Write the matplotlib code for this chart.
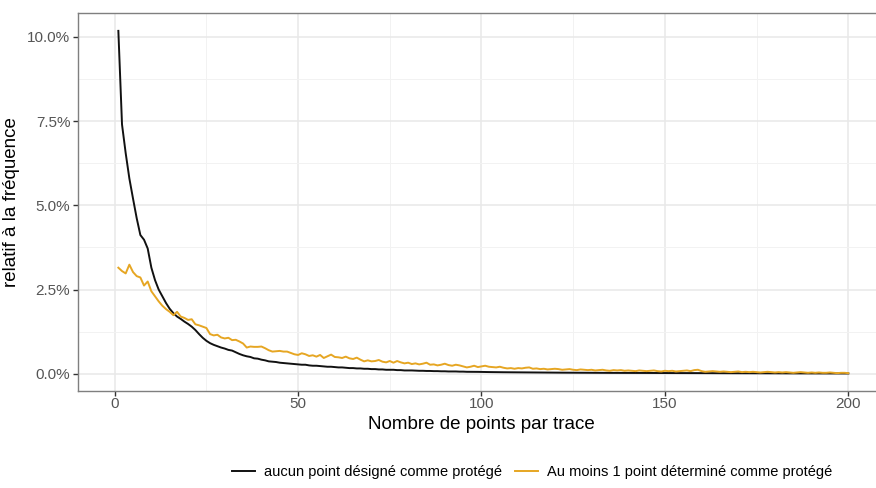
#!/usr/bin/env python3
# relative frequency of points per trace, two groups

import numpy as np
import matplotlib
matplotlib.use("Agg")
import matplotlib.pyplot as plt
from matplotlib.ticker import FuncFormatter, MultipleLocator

plt.rcParams['font.family'] = ['Liberation Sans', 'DejaVu Sans']

# --- DATA (percent) ---
n_points = list(range(1, 201))

no_protected = [
    10.18, 7.40, 6.55, 5.80, 5.20, 4.62, 4.12, 3.98, 3.72, 3.15,
    2.78, 2.50, 2.30, 2.10, 1.93, 1.80, 1.70, 1.63, 1.55, 1.48,
    1.40, 1.30, 1.18, 1.07, 0.98, 0.91, 0.86, 0.82, 0.78, 0.75,
    0.71, 0.69, 0.64, 0.59, 0.55, 0.52, 0.50, 0.46, 0.45, 0.42,
    0.40, 0.37, 0.36, 0.35, 0.33, 0.32, 0.31, 0.30, 0.29, 0.28,
    0.27, 0.27, 0.25, 0.24, 0.24, 0.23, 0.22, 0.21, 0.21, 0.20,
    0.19, 0.19, 0.18, 0.17, 0.17, 0.16, 0.16, 0.15, 0.15, 0.14,
    0.14, 0.13, 0.13, 0.12, 0.12, 0.12, 0.11, 0.11, 0.10, 0.10,
    0.10, 0.095, 0.09, 0.09, 0.085, 0.085, 0.08, 0.08, 0.075, 0.075,
    0.07, 0.07, 0.07, 0.065, 0.065, 0.06, 0.06, 0.06, 0.058, 0.055,
    0.055, 0.052, 0.05, 0.05, 0.048, 0.047, 0.046, 0.045, 0.044, 0.043,
    0.042, 0.041, 0.04, 0.04, 0.039, 0.038, 0.037, 0.037, 0.036, 0.035,
    0.035, 0.034, 0.034, 0.033, 0.033, 0.032, 0.032, 0.031, 0.031, 0.03,
    0.03, 0.03, 0.029, 0.029, 0.028, 0.028, 0.028, 0.027, 0.027, 0.027,
    0.026, 0.026, 0.026, 0.025, 0.025, 0.025, 0.024, 0.024, 0.024, 0.023,
    0.023, 0.023, 0.022, 0.022, 0.022, 0.021, 0.021, 0.021, 0.02, 0.02,
    0.02, 0.02, 0.019, 0.019, 0.019, 0.018, 0.018, 0.018, 0.018, 0.017,
    0.017, 0.017, 0.016, 0.016, 0.016, 0.016, 0.015, 0.015, 0.015, 0.015,
    0.014, 0.014, 0.014, 0.014, 0.013, 0.013, 0.013, 0.013, 0.012, 0.012,
    0.012, 0.012, 0.011, 0.011, 0.011, 0.011, 0.01, 0.01, 0.01, 0.01,
]

at_least_one = [
    3.15, 3.05, 2.98, 3.24, 3.02, 2.90, 2.86, 2.62, 2.74, 2.45,
    2.30, 2.15, 2.02, 1.92, 1.84, 1.74, 1.84, 1.70, 1.66, 1.60,
    1.62, 1.47, 1.44, 1.40, 1.36, 1.18, 1.14, 1.16, 1.08, 1.05,
    1.07, 1.00, 1.01, 0.96, 0.90, 0.78, 0.81, 0.80, 0.80, 0.81,
    0.76, 0.70, 0.66, 0.67, 0.68, 0.66, 0.66, 0.62, 0.58, 0.56,
    0.61, 0.58, 0.53, 0.55, 0.51, 0.56, 0.47, 0.52, 0.57, 0.50,
    0.49, 0.47, 0.51, 0.46, 0.44, 0.48, 0.42, 0.37, 0.40, 0.37,
    0.38, 0.41, 0.36, 0.34, 0.38, 0.33, 0.38, 0.34, 0.31, 0.33,
    0.29, 0.31, 0.28, 0.30, 0.33, 0.27, 0.28, 0.25, 0.27, 0.30,
    0.26, 0.24, 0.27, 0.25, 0.22, 0.19, 0.21, 0.24, 0.20, 0.22,
    0.24, 0.21, 0.20, 0.19, 0.21, 0.18, 0.16, 0.17, 0.15, 0.17,
    0.16, 0.18, 0.19, 0.15, 0.16, 0.14, 0.15, 0.13, 0.14, 0.15,
    0.14, 0.12, 0.13, 0.14, 0.12, 0.11, 0.13, 0.12, 0.11, 0.12,
    0.10, 0.11, 0.12, 0.10, 0.09, 0.11, 0.10, 0.11, 0.09, 0.10,
    0.09, 0.08, 0.10, 0.09, 0.08, 0.09, 0.10, 0.08, 0.07, 0.09,
    0.08, 0.09, 0.07, 0.08, 0.09, 0.10, 0.08, 0.11, 0.12, 0.08,
    0.06, 0.07, 0.08, 0.07, 0.06, 0.07, 0.06, 0.05, 0.06, 0.07,
    0.05, 0.06, 0.05, 0.06, 0.05, 0.04, 0.05, 0.06, 0.05, 0.04,
    0.05, 0.04, 0.05, 0.04, 0.03, 0.04, 0.05, 0.04, 0.03, 0.04,
    0.03, 0.04, 0.03, 0.03, 0.04, 0.03, 0.02, 0.03, 0.03, 0.02,
]

labels = ["aucun point désigné comme protégé",
          "Au moins 1 point déterminé comme protégé"]
colors = ["#111111", "#E6A623"]

# --- PLOT ---
fig = plt.figure(figsize=(8.76, 4.88), dpi=100)
ax = fig.add_axes([78 / 876, 1 - 391 / 488, (885 - 78) / 876, (391 - 13) / 488])

ax.plot(n_points, no_protected, color=colors[0], lw=1.4, label=labels[0])
ax.plot(n_points, at_least_one, color=colors[1], lw=1.4, label=labels[1])

ax.set_xlim(-10, 210)
ax.set_ylim(-0.51, 10.71)
ax.xaxis.set_major_locator(MultipleLocator(50))
ax.xaxis.set_minor_locator(MultipleLocator(25))
ax.yaxis.set_major_locator(MultipleLocator(2.5))
ax.yaxis.set_minor_locator(MultipleLocator(1.25))
ax.yaxis.set_major_formatter(FuncFormatter(lambda v, _: f"{v:.1f}%"))

ax.grid(True, which='major', color='#E8E8E8', lw=1.1)
ax.grid(True, which='minor', color='#F2F2F2', lw=0.7)
ax.set_axisbelow(True)
for s in ax.spines.values():
    s.set_color('#7F7F7F')
    s.set_linewidth(1.0)
ax.tick_params(which='major', length=3.5, width=1.0, color='#333333',
               labelcolor='#555555', labelsize=11, pad=2)
ax.tick_params(axis='x', pad=0.5)
ax.tick_params(which='minor', length=0)

ax.set_xlabel("Nombre de points par trace", fontsize=13.5, labelpad=4)
ax.set_ylabel("relatif à la fréquence", fontsize=13.5, labelpad=5)

fig.legend(loc='center', bbox_to_anchor=(532 / 876, 1 - 472 / 488), ncol=2,
           frameon=False, fontsize=10.5, handlelength=1.6, handletextpad=0.6,
           columnspacing=0.9)

fig.savefig("out.png", dpi=100)
